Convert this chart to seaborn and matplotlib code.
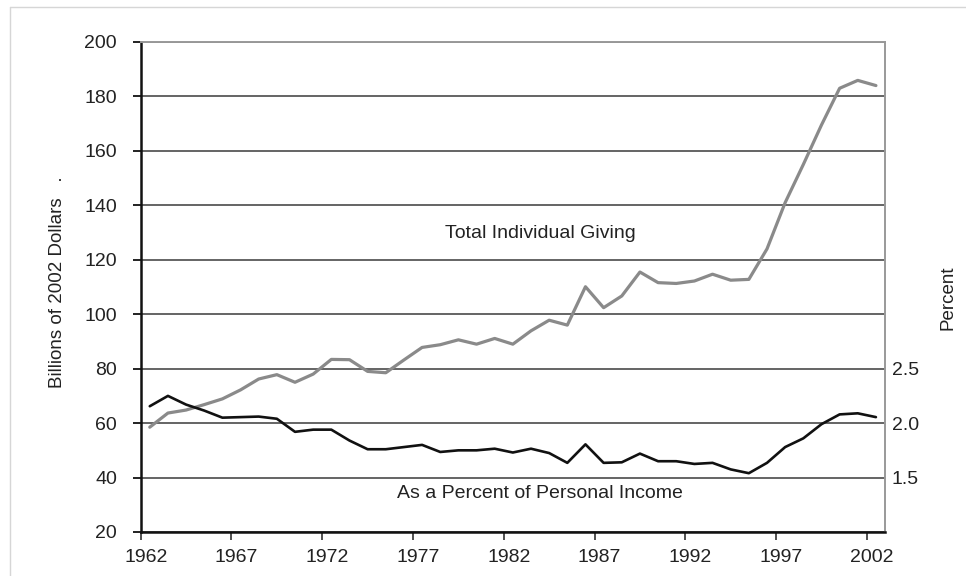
import numpy as np
import pandas as pd
import seaborn as sns
import matplotlib
matplotlib.use("Agg")
import matplotlib.pyplot as plt
import matplotlib.transforms as mtransforms
from matplotlib.lines import Line2D

# ---- data ----
years = list(range(1962, 2003))
giving_billions = [
    58.5, 63.7, 64.8, 66.8, 68.9, 72.2, 76.2, 77.8, 75.0, 78.0,
    83.4, 83.3, 79.0, 78.5, 83.2, 87.8, 88.8, 90.6, 89.0, 91.1,
    89.0, 93.9, 97.8, 96.0, 110.1, 102.4, 106.7, 115.5, 111.6, 111.3,
    112.2, 114.7, 112.5, 112.8, 124.0, 141.0, 155.0, 169.5, 183.0, 185.9,
    184.0,
]
percent_income = [
    2.155, 2.25, 2.17, 2.115, 2.05, 2.055, 2.06, 2.04, 1.92, 1.94,
    1.94, 1.84, 1.76, 1.76, 1.78, 1.80, 1.735, 1.75, 1.75, 1.765,
    1.73, 1.765, 1.725, 1.635, 1.805, 1.635, 1.64, 1.72, 1.65, 1.65,
    1.625, 1.635, 1.575, 1.54, 1.635, 1.78, 1.86, 1.99, 2.08, 2.09,
    2.055,
]
x_tick_labels = ["1962", "1967", "1972", "1977", "1982", "1987", "1992", "1997", "2002"]
left_ticks = [20, 40, 60, 80, 100, 120, 140, 160, 180, 200]
right_ticks = [1.5, 2.0, 2.5]

df = pd.DataFrame({"year": years, "giving": giving_billions, "pct": percent_income})

sns.set_theme(style="white")
plt.rcParams["font.family"] = ["Liberation Sans", "DejaVu Sans"]
TXT = "#222222"

fig = plt.figure(figsize=(9.66, 5.76), dpi=100)
ax = fig.add_axes([140.7 / 966, 1 - 532 / 576, (885 - 140.7) / 966, (532 - 42) / 576])

# gridlines (drawn below lines)
ax.set_axisbelow(True)
ax.yaxis.grid(True, color="#3a3a3a", linewidth=1.1)
ax.xaxis.grid(False)

sns.lineplot(data=df, x="year", y="giving", ax=ax, color="#8a8a8a", linewidth=2.3)

ax2 = ax.twinx()
sns.lineplot(data=df, x="year", y="pct", ax=ax2, color="#111111", linewidth=1.9)

# left axis
ax.set_xlim(1961.5, 2002.5)
ax.set_ylim(20, 200)
ax.set_yticks(left_ticks)
ax.set_yticklabels([str(v) for v in left_ticks])
tick_pos = [int(s) - 0.5 for s in x_tick_labels]
ax.set_xticks(tick_pos)
ax.set_xticklabels(x_tick_labels)
ax.tick_params(axis="y", direction="out", length=6, width=1.4, color="#222222",
               pad=11, labelsize=14, labelcolor=TXT, left=True)
ax.tick_params(axis="x", direction="out", length=5.5, width=1.2, color="#333333",
               pad=7, labelsize=14, labelcolor=TXT, bottom=True)
offset = mtransforms.ScaledTranslation(5 / 100, 0, fig.dpi_scale_trans)
for lab in ax.get_xticklabels():
    lab.set_transform(lab.get_transform() + offset)

ax.set_xlabel("")
ax.set_ylabel("Billions of 2002 Dollars   .", fontsize=13.5, color=TXT)
ax.yaxis.set_label_coords(-0.100, 0.51)

for side in ["left", "bottom"]:
    ax.spines[side].set_color("#111111")
    ax.spines[side].set_linewidth(1.8)
for side in ["top", "right"]:
    ax.spines[side].set_color("#999999")
    ax.spines[side].set_linewidth(1.4)
for side in ax2.spines:
    ax2.spines[side].set_visible(False)

# right axis
ax2.set_ylim(20 / 40 + 0.5, 200 / 40 + 0.5)
ax2.set_yticks(right_ticks)
ax2.set_yticklabels([f"{v:.1f}" for v in right_ticks])
ax2.tick_params(axis="y", length=0, pad=5, labelsize=14, labelcolor=TXT, right=True)
ax2.set_ylabel("Percent", fontsize=13.5, color=TXT)
ax2.yaxis.set_label_coords(1.073, 0.478)
ax2.grid(False)

# annotations
ax.text(1983.5, 129.8, "Total Individual Giving", fontsize=14, color=TXT,
        ha="center", va="center")
ax.text(1983.5, 34.0, "As a Percent of Personal Income", fontsize=14, color=TXT,
        ha="center", va="center")

# faint frame around the image
fig.add_artist(Line2D([10 / 966, 1.0], [1 - 7 / 576, 1 - 7 / 576], transform=fig.transFigure,
                      color="#d6d6d6", linewidth=1.0))
fig.add_artist(Line2D([10 / 966, 10 / 966], [0.0, 1 - 7 / 576], transform=fig.transFigure,
                      color="#d6d6d6", linewidth=1.0))

fig.savefig("out.png", dpi=100, facecolor="white")
